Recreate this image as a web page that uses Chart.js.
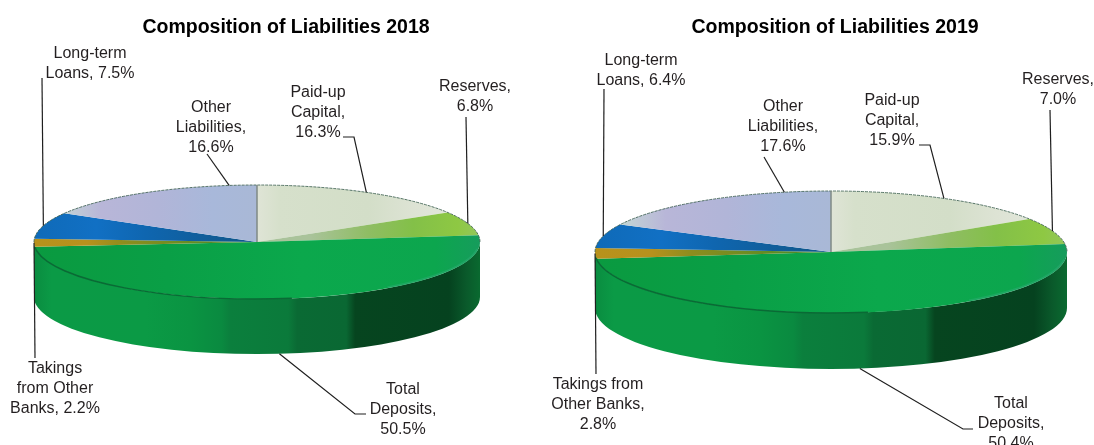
<!DOCTYPE html>
<html>
<head>
<meta charset="utf-8">
<title>Composition of Liabilities</title>
<script src="https://cdn.jsdelivr.net/npm/chart.js@4"></script>
<style>
    html, body { margin: 0; padding: 0; background: #fff; overflow: hidden; }
    canvas { position: absolute; top: 0; }
</style>
</head>
<body>
<canvas id="chart2018" width="540" height="445" style="left:0"></canvas>
<canvas id="chart2019" width="554" height="445" style="left:540px"></canvas>
<script>
// Shares of total liabilities, percent
var categories = ['Paid-up Capital', 'Reserves', 'Total Deposits', 'Takings from Other Banks', 'Long-term Loans', 'Other Liabilities'];
var values2018 = [16.3, 6.8, 50.5, 2.2, 7.5, 16.6];
var values2019 = [15.9, 7.0, 50.4, 2.8, 6.4, 17.6];

// Horizontal colour bands for each slice, left to right across the pie
var sliceBands = [
    [[0.5, '#dfe4d6'], [0.55, '#d6e0cb'], [0.75, '#d3dec8'], [0.85, '#dde3d4'], [0.95, '#e3e8dc']],
    [[0.62, '#a9c39a'], [0.75, '#8fbd63'], [0.85, '#83c048'], [0.95, '#8ec843'], [1, '#93c65c']],
    [[0, '#0a9a40'], [0.3, '#0a9f46'], [0.6, '#0ba84c'], [0.9, '#0ca64e'], [1, '#169c5c']],
    [[0, '#b8921c'], [0.12, '#b7911d'], [0.2, '#8f8d1e'], [0.45, '#4d8a27']],
    [[0, '#0f6ab8'], [0.14, '#1170c4'], [0.25, '#0f66b0'], [0.45, '#10598f']],
    [[0.05, '#c4d8d4'], [0.15, '#b8b6d8'], [0.28, '#b1b5d8'], [0.4, '#a8b8da'], [0.5, '#a9b8d6']]
];

// Side wall bands, left to right
var wallBands = [
    [0, '#0a8c40'], [0.04, '#0b9a46'], [0.25, '#0b9a45'], [0.35, '#0a9442'], [0.42, '#0a8a40'],
    [0.44, '#0b7f3d'], [0.57, '#0b7a3b'], [0.59, '#0a6a34'], [0.70, '#0a6833'], [0.72, '#06451f'],
    [0.93, '#05421f'], [0.97, '#0a5a2b'], [1, '#0a6a30']
];

// Text is drawn centred on x, y; path runs from the text towards the slice
var callouts2018 = [
    { lines: ['Paid-up', 'Capital,', '{v}'], x: 318, y: 93, path: [[343, 137], [354, 137]], along: 0.5 },
    { lines: ['Reserves,', '{v}'], x: 475, y: 87, path: [[466, 117]], along: 0.5 },
    { lines: ['Total', 'Deposits,', '{v}'], x: 403, y: 390, path: [[366, 414], [355, 414]], along: 0.5 },
    { lines: ['Takings', 'from Other', 'Banks, {v}'], x: 55, y: 369, path: [[35, 358]], along: 0.5 },
    { lines: ['Long-term', 'Loans, {v}'], x: 90, y: 54, path: [[42, 78]], along: 0.5 },
    { lines: ['Other', 'Liabilities,', '{v}'], x: 211, y: 108, path: [[207, 154]], along: 0.88 }
];
var callouts2019 = [
    { lines: ['Paid-up', 'Capital,', '{v}'], x: 892, y: 101, path: [[919, 145], [930, 145]], along: 0.5 },
    { lines: ['Reserves,', '{v}'], x: 1058, y: 80, path: [[1050, 110]], along: 0.5 },
    { lines: ['Total', 'Deposits,', '{v}'], x: 1011, y: 404, path: [[973, 429], [963, 429]], along: 0.5 },
    { lines: ['Takings from', 'Other Banks,', '{v}'], x: 598, y: 385, path: [[596, 374]], along: 0.5 },
    { lines: ['Long-term', 'Loans, {v}'], x: 641, y: 61, path: [[604, 89]], along: 0.5 },
    { lines: ['Other', 'Liabilities,', '{v}'], x: 783, y: 107, path: [[764, 157]], along: 0.82 }
];

function bandGradient(ctx, x0, x1, bands) {
    var g = ctx.createLinearGradient(x0, 0, x1, 0);
    bands.forEach(function (b) { g.addColorStop(b[0], b[1]); });
    return g;
}

// Draws the flat Chart.js pie as a tilted disc with a wall, rim and callouts
function tiltPlugin(geo, callouts, values) {
    return {
        id: 'tilt',
        beforeDatasetsDraw(chart) {
            var ctx = chart.ctx;
            var arc = chart.getDatasetMeta(0).data[0];
            var x = geo.cx - geo.offset;

            ctx.save();
            ctx.beginPath();
            ctx.ellipse(x, geo.cy + geo.depth, geo.rx, geo.ry, 0, 0, Math.PI);
            ctx.lineTo(x - geo.rx, geo.cy);
            ctx.ellipse(x, geo.cy, geo.rx, geo.ry, 0, Math.PI, 0, true);
            ctx.closePath();
            ctx.fillStyle = bandGradient(ctx, x - geo.rx, x + geo.rx, wallBands);
            ctx.fill();
            ctx.restore();

            // Everything the pie draws next lands on the ellipse
            ctx.save();
            ctx.translate(x, geo.cy);
            ctx.scale(geo.rx / arc.outerRadius, geo.ry / arc.outerRadius);
            ctx.translate(-arc.x, -arc.y);
        },
        afterDatasetsDraw(chart) {
            var ctx = chart.ctx;
            var arcs = chart.getDatasetMeta(0).data;
            ctx.restore();

            ctx.save();
            ctx.translate(-geo.offset, 0);

            // lower edge of the top face
            ctx.beginPath();
            ctx.ellipse(geo.cx, geo.cy, geo.rx, geo.ry, 0, Math.PI * 0.45, Math.PI * 0.97);
            ctx.strokeStyle = '#0a6a35';
            ctx.lineWidth = 1.5;
            ctx.stroke();
            ctx.beginPath();
            ctx.ellipse(geo.cx, geo.cy, geo.rx - 1, geo.ry - 1, 0, Math.PI * 0.04, Math.PI * 0.3);
            ctx.strokeStyle = 'rgba(40,170,110,0.6)';
            ctx.lineWidth = 2;
            ctx.stroke();

            // speckled upper rim
            ctx.beginPath();
            ctx.ellipse(geo.cx, geo.cy, geo.rx, geo.ry, 0, Math.PI, Math.PI * 2);
            ctx.strokeStyle = 'rgba(60,95,80,0.85)';
            ctx.lineWidth = 1;
            ctx.setLineDash([3, 1]);
            ctx.stroke();
            ctx.setLineDash([]);

            // seam where the first slice starts
            ctx.beginPath();
            ctx.moveTo(geo.cx, geo.cy - geo.ry);
            ctx.lineTo(geo.cx, geo.cy);
            ctx.strokeStyle = '#7f8a84';
            ctx.lineWidth = 1.5;
            ctx.stroke();

            ctx.strokeStyle = '#1f1f1f';
            ctx.lineWidth = 1.2;
            ctx.fillStyle = '#231f20';
            ctx.font = '16px "Liberation Sans"';
            ctx.textAlign = 'center';
            ctx.textBaseline = 'middle';
            callouts.forEach(function (c, i) {
                var a = arcs[i].startAngle + c.along * (arcs[i].endAngle - arcs[i].startAngle);
                var ax = geo.cx + geo.rx * Math.cos(a);
                var ay = geo.cy + geo.ry * Math.sin(a);
                if (Math.sin(a) > 0.5) ay += geo.depth;

                ctx.beginPath();
                c.path.forEach(function (p, j) {
                    if (j === 0) ctx.moveTo(p[0], p[1]);
                    else ctx.lineTo(p[0], p[1]);
                });
                ctx.lineTo(ax, ay);
                ctx.stroke();

                c.lines.forEach(function (line, j) {
                    ctx.fillText(line.replace('{v}', values[i].toFixed(1) + '%'), c.x, c.y + j * 20);
                });
            });
            ctx.restore();
        }
    };
}

function makeChart(id, title, values, geo, callouts) {
    return new Chart(document.getElementById(id), {
        type: 'pie',
        data: {
            labels: categories,
            datasets: [{
                data: values,
                borderWidth: 0,
                backgroundColor: function (c) {
                    var area = c.chart.chartArea;
                    if (!area) return '#0ba84c';
                    // x0..x1 is the pie's own diameter, the gradient gets squashed with it
                    var cx = (area.left + area.right) / 2;
                    var r = Math.min(area.right - area.left, area.bottom - area.top) / 2;
                    return bandGradient(c.chart.ctx, cx - r, cx + r, sliceBands[c.dataIndex]);
                }
            }]
        },
        options: {
            responsive: false,
            animation: false,
            events: [],
            layout: { padding: { left: geo.padLeft, top: 10, bottom: 60 } },
            plugins: {
                legend: { display: false },
                tooltip: { enabled: false },
                title: {
                    display: true,
                    text: title,
                    color: '#000',
                    font: { family: '"Liberation Sans"', size: 19.5, weight: 'bold' },
                    padding: { top: 6, bottom: 8 }
                }
            }
        },
        plugins: [tiltPlugin(geo, callouts, values)]
    });
}

makeChart('chart2018', 'Composition of Liabilities 2018', values2018,
    { offset: 0, padLeft: 32, cx: 257, cy: 242, rx: 223, ry: 57, depth: 55 }, callouts2018);
makeChart('chart2019', 'Composition of Liabilities 2019', values2019,
    { offset: 540, padLeft: 36, cx: 831, cy: 252, rx: 236, ry: 61, depth: 56 }, callouts2019);
</script>
</body>
</html>
